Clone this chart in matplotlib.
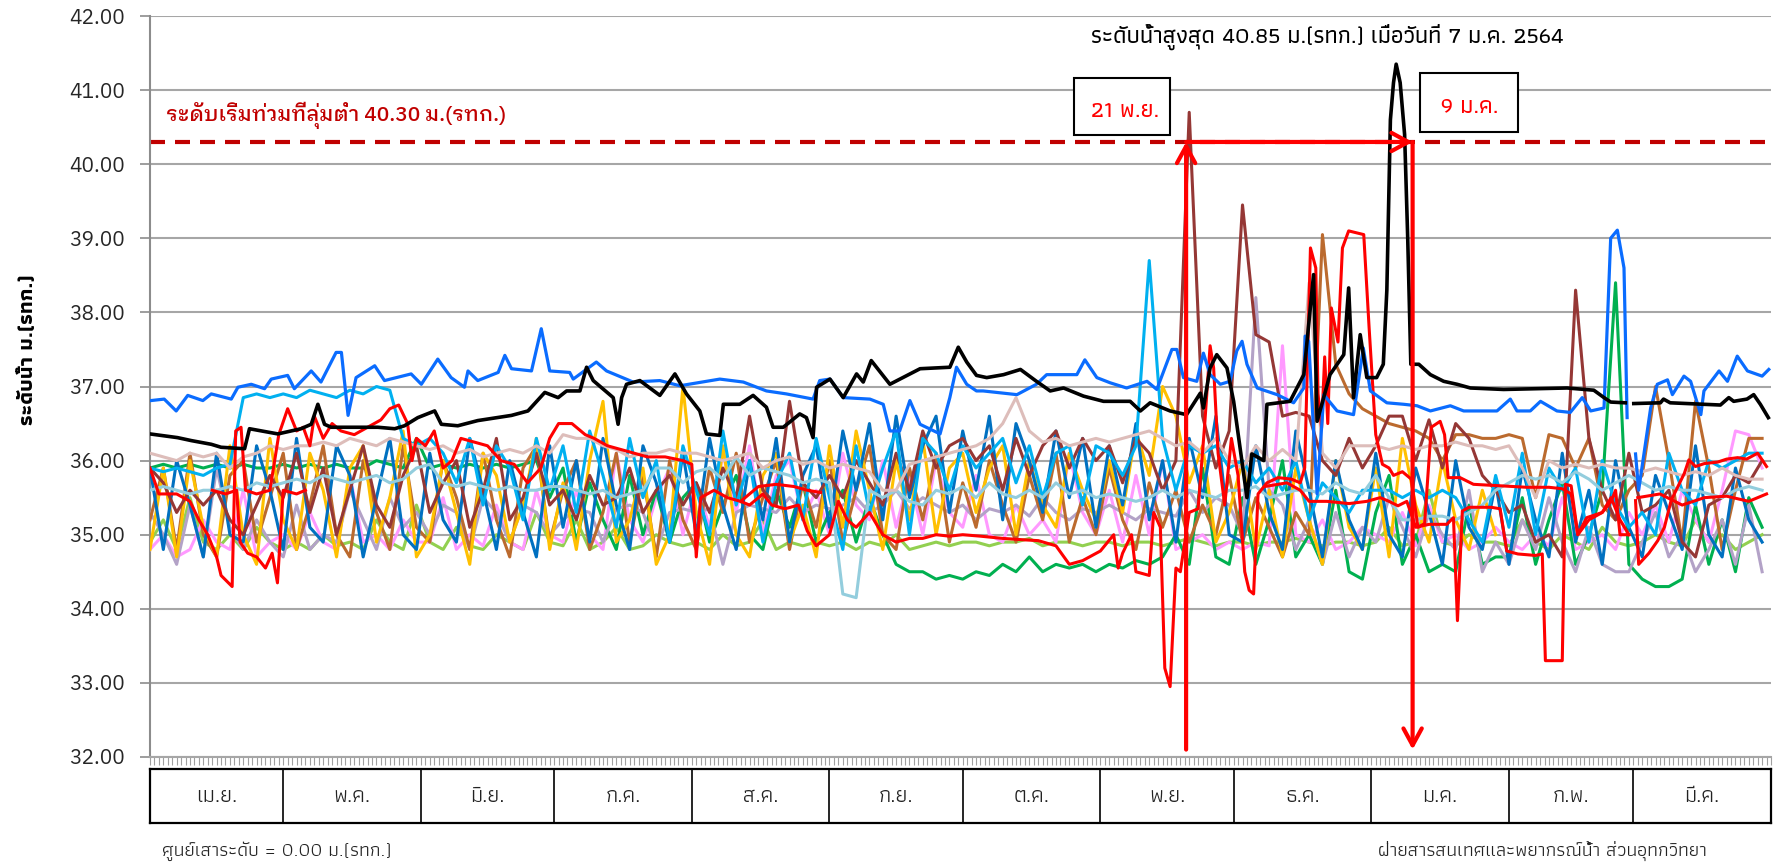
import numpy as np
import matplotlib
matplotlib.use('Agg')
import matplotlib.pyplot as plt
from matplotlib import font_manager
from matplotlib.patches import Rectangle

nan = float('nan')

# --- categories / labels ---
months = ['เม.ย.', 'พ.ค.', 'มิ.ย.', 'ก.ค.', 'ส.ค.', 'ก.ย.', 'ต.ค.', 'พ.ย.', 'ธ.ค.', 'ม.ค.', 'ก.พ.', 'มี.ค.']
month_days = [30, 31, 30, 31, 31, 30, 31, 30, 31, 31, 28, 31]
yticks = [32, 33, 34, 35, 36, 37, 38, 39, 40, 41, 42]
flood_level = 40.30
flood_text = 'ระดับเริ่มท่วมที่ลุ่มต่ำ 40.30 ม.(รทก.)'
peak_text = 'ระดับน้ำสูงสุด 40.85 ม.(รทก.) เมื่อวันที่ 7 ม.ค. 2564'
start_label = '21 พ.ย.'
end_label = '9 ม.ค.'
ylabel = 'ระดับน้ำ ม.(รทก.)'
note_left = 'ศูนย์เสาระดับ = 0.00 ม.(รทก.)'
note_right = 'ฝ่ายสารสนเทศและพยากรณ์น้ำ ส่วนอุทกวิทยา'

# --- main station (black), day of water year vs level ---
black_days = [0, 6.2, 9.3, 13.8, 16.0, 21.3, 22.4, 28.8, 34.0, 36.3, 37.8, 39.3, 40.8, 51.3, 55.1, 57.3, 60.3, 64.1, 65.6, 69.3, 73.8, 81.4, 85.1, 88.9, 91.9,
              93.8, 96.8, 98.3, 99.8, 104.3, 105.4, 106.2, 107.3, 110.3, 114.8, 118.2, 120.8, 123.8, 125.3, 128.3, 129.1, 132.8, 135.8, 138.8, 140.3, 142.6, 146.3, 147.8, 149.3, 150.1, 153.1, 156.1, 159.1, 160.6, 162.4, 166.6, 173.4, 180.1, 182.0, 183.9, 186.1,
              188.4, 192.2, 196.0, 199.6, 202.7, 205.7, 210.2, 214.7, 220.7, 223.0, 225.2, 229.7, 233.4, 236.5, 237.2, 238.7, 240.2, 242.5, 244.0, 247.0, 248.1, 250.8, 251.5, 256.7, 259.8, 261.2, 262.0, 262.8, 265.7, 268.8, 269.9, 271.0, 272.5, 274.0, 276.2, 277.7,
              278.5, 279.3, 280.0, 280.6, 281.5, 282.5, 283.2, 283.9, 285.7, 288.3, 291.3, 294.3, 297.3, 304.8, 312.4, 319.1, 325.1, 327.4, 328.9, 332.2, 333.2, 334.1, 340.1, 340.8, 342.3, 349.9, 353.6, 355.5, 356.6, 359.6, 361.1, 362.6, 364.4]
black_levels = [36.36, 36.31, 36.27, 36.22, 36.18, 36.16, 36.43, 36.36, 36.43, 36.49, 36.76, 36.49, 36.45, 36.45, 36.43, 36.47, 36.58, 36.67, 36.49, 36.47, 36.54, 36.61, 36.67, 36.92, 36.85,
                36.94, 36.94, 37.26, 37.08, 36.85, 36.49, 36.85, 37.03, 37.08, 36.88, 37.17, 36.90, 36.67, 36.36, 36.34, 36.76, 36.76, 36.88, 36.72, 36.45, 36.45, 36.63, 36.58, 36.31, 36.99, 37.10, 36.85, 37.17, 37.06, 37.35, 37.03, 37.24, 37.26, 37.53, 37.33, 37.15,
                37.12, 37.16, 37.23, 37.07, 36.94, 36.98, 36.87, 36.80, 36.80, 36.67, 36.78, 36.67, 36.62, 36.91, 36.71, 37.25, 37.43, 37.25, 36.80, 35.50, 36.09, 36.00, 36.76, 36.80, 37.16, 38.01, 38.51, 36.53, 37.16, 37.43, 38.33, 36.85, 37.70, 37.12, 37.12, 37.30,
                38.30, 40.60, 41.10, 41.35, 41.10, 40.40, 39.00, 37.30, 37.30, 37.16, 37.07, 37.03, 36.98, 36.96, 36.97, 36.98, 36.95, 36.85, 36.79, 36.78, nan, 36.77, 36.78, 36.83, 36.78, 36.76, 36.75, 36.85, 36.80, 36.83, 36.89, 36.76, 36.58]

blue_days = [0.2, 3.2, 5.9, 8.5, 11.9, 13.8, 18.3, 19.8, 22.8, 25.8, 27.3, 31.0, 32.5, 36.3, 38.5, 41.9, 43.1, 44.6, 46.4, 50.6, 52.8, 58.8, 61.1, 64.8, 67.8, 70.8, 71.6, 73.8, 78.4, 79.9, 81.4, 85.9, 88.1, 90.0,
             94.5, 95.3, 100.5, 102.8, 108.8, 114.8, 119.3, 128.3, 133.6, 138.8, 143.3, 149.3, 150.8, 153.1, 156.1, 162.1, 165.1, 166.6, 168.8, 171.1, 173.4, 177.9, 180.1, 181.6, 183.9, 186.1,
             187.6, 195.2, 199.6, 201.9, 208.7, 210.5, 213.2, 216.2, 219.9, 224.5, 226.7, 230.1, 231.2, 232.7, 235.7, 237.2, 238.7, 241.0, 243.2, 244.7, 245.9, 247.0, 249.3, 253.8, 257.5, 259.8, 260.1, 260.9, 262.8, 264.3, 267.3, 271.0, 273.2, 274.8, 278.5,
             282.3, 285.3, 288.3, 292.8, 295.8, 303.3, 306.3, 307.8, 310.8, 313.1, 316.8, 319.8, 322.5, 324.4, 327.4, 328.9, 330.4, 331.9, 332.6, 333.5, 334.5, 335.2, 336.4, 337.9, 339.4, 341.7, 342.8, 345.4, 346.9, 349.2, 349.9, 353.3, 355.2, 357.4, 359.7, 363.0, 364.5]
blue_levels = [36.81, 36.83, 36.67, 36.88, 36.81, 36.90, 36.83, 36.99, 37.03, 36.97, 37.10, 37.15, 36.97, 37.21, 37.06, 37.46, 37.46, 36.61, 37.12, 37.28, 37.08, 37.17, 37.03, 37.37, 37.12, 36.99, 37.21, 37.08, 37.19, 37.42, 37.24, 37.21, 37.78, 37.21,
               37.19, 37.10, 37.33, 37.21, 37.06, 37.08, 37.01, 37.10, 37.06, 36.94, 36.90, 36.83, 37.08, 37.10, 36.85, 36.83, 36.76, 36.40, 36.40, 36.81, 36.49, 36.36, 36.85, 37.26, 37.03, 36.94,
               36.94, 36.89, 37.03, 37.16, 37.16, 37.36, 37.12, 37.05, 36.98, 37.07, 36.96, 37.50, 37.50, 37.12, 37.07, 37.45, 37.16, 37.03, 37.07, 37.48, 37.61, 37.30, 36.98, 36.89, 36.78, 36.98, 37.68, 37.61, 35.55, 36.89, 36.67, 36.62, 37.52, 36.94, 36.78,
               36.76, 36.74, 36.67, 36.74, 36.67, 36.67, 36.83, 36.67, 36.67, 36.80, 36.67, 36.65, 36.85, 36.67, 36.71, 39.00, 39.11, 38.60, 36.58, nan, 36.09, 35.60, 36.09, 36.71, 37.03, 37.09, 36.89, 37.14, 37.07, 36.62, 36.94, 37.21, 37.07, 37.41, 37.21, 37.14, 37.23]

red1_days = [0, 2, 6, 9, 11, 13, 15, 16, 18.5, 19.3, 20.5, 21.5, 24, 27, 29, 31, 33, 34.5, 36, 37, 39, 41, 43, 46, 49, 52, 54, 56, 58, 59,
             60, 62, 64, 66, 68, 70, 73, 76, 79, 82, 85, 88, 90, 92, 95, 98, 100, 103, 106, 109, 112, 116, 120, 122, 123, 124, 127, 130, 133, 135,
             138, 140, 143, 146, 148, 150, 153, 155, 157, 159, 162, 165, 168, 171, 174, 177, 180,
             183, 187, 192, 197, 200, 204, 207, 210, 214, 217, 218, 219, 221, 222, 225, 226, 227.5, 228.5, 229.7, 231,
             232, 234, 236, 237.5, 238.7, 239.5, 240.5, 242, 243.5, 245, 246.5, 247.5, 248.5, 249.5, 251.5, 254, 257, 259, 260, 261.3,
             262.5, 263, 263.8, 264.5, 265.2, 266, 267.5, 268.5, 269.9, 273.3, 274.5, 276, 277.5, 279, 280, 282, 284, 285.5, 287, 288.5,
             290.5, 291.5, 292.3, 295, 298, 304, 310, 315, 318, 320, 321.5, 323.5, 327, 329, 330, 331, 333, 333.8,
             334.5, 335.2, 337.5, 339.5, 341, 342.5, 345.5, 346.5, 348, 350, 353, 355, 357.5, 359.5, 362, 364]
red1_levels = [35.9, 35.55, 35.55, 35.45, 35.2, 35.0, 34.7, 34.45, 34.3, 36.4, 36.45, 35.6, 35.55, 35.6, 36.35, 36.7, 36.4, 36.45, 36.2, 36.6, 36.3, 36.5, 36.4, 36.35, 36.45, 36.55, 36.7, 36.75, 36.5, 36.0,
               36.3, 36.2, 36.4, 35.9, 36.0, 36.3, 36.25, 36.2, 36.0, 35.95, 35.7, 35.9, 36.3, 36.5, 36.5, 36.35, 36.3, 36.2, 36.15, 36.1, 36.05, 36.05, 36.0, 35.95, 34.7, 35.5, 35.6, 35.5, 35.45, 35.4,
               35.55, 35.4, 35.35, 35.4, 35.05, 34.85, 35.0, 35.45, 35.2, 35.1, 35.3, 35.0, 34.9, 34.95, 34.95, 35.0, 34.98,
               35.0, 34.98, 34.95, 34.93, 34.92, 34.85, 34.6, 34.65, 34.78, 35.0, 34.55, 34.75, 35.0, 34.5, 34.45, 35.3, 35.1, 33.2, 32.95, 34.55,
               34.5, 35.3, 35.35, 36.5, 37.55, 37.25, 36.1, 35.4, 36.3, 35.8, 34.5, 34.25, 34.2, 35.55, 35.7, 35.77, 35.75, 35.7, 35.9, 38.87,
               38.6, 36.9, 36.44, 37.4, 36.5, 38.06, 37.6, 38.87, 39.1, 39.05, 37.8, 36.35, 35.95, 35.9, 35.8, 35.85, 35.75, 35.1, 35.15, 36.45,
               36.53, 36.35, 35.77, 35.77, 35.68, 35.66, 35.64, 35.64, 35.62, 35.55, 35.0, 35.23, 35.3, 35.45, 35.6, 35.0, 35.0, nan,
               35.46, 34.6, 34.75, 34.92, 35.1, 35.46, 35.83, 36.01, 35.92, 35.96, 35.98, 36.02, 36.04, 36.02, 36.1, 35.92]

red2_days = [14, 17, 19.5, 20.3, 22, 24, 26, 27.5, 28.7, 30, 33, 35, 36, 133, 137, 141, 145, 148, 151, 152,
             251, 256, 259, 261, 265, 270, 274, 277, 279, 281, 283, 285, 288, 292, 293.5, 294.4, 295.5, 297, 302, 304,
             305.5, 308, 312, 313.5, 314.2, 318, 318.7, 320, 321.5, 324, 327, 329, 331, 333, 334, 335, 340, 345, 350, 355, 360, 364]
red2_levels = [35.6, 35.55, 35.6, 34.9, 34.75, 34.7, 34.55, 34.75, 34.35, 35.6, 35.55, 35.6, nan, 35.45, 35.65, 35.68, 35.65, 35.6, 35.57, nan,
               35.65, 35.7, 35.6, 35.45, 35.45, 35.42, 35.45, 35.5, 35.45, 35.39, 35.45, 35.1, 35.14, 35.14, 35.23, 33.84, 35.32, 35.37, 35.37, 35.35,
               34.78, 34.74, 34.72, 34.74, 33.3, 33.3, 35.68, 35.66, 35.0, 35.2, 35.3, 35.5, 35.2, 35.0, nan, 35.5, 35.55, 35.4, 35.5, 35.52, 35.45, 35.55]

# --- other stations, read every 3rd day (Apr .. Mar rows) ---
gold = [34.8, 35.9, 34.7, 36.0, 35.1, 34.7, 36.2, 35.0, 34.6, 36.3,
        35.2, 34.8, 36.1, 35.6, 34.7, 35.9, 36.2, 34.9, 35.5, 36.4, 34.7,
        35.0, 36.0, 35.3, 34.6, 36.1, 35.8, 34.9, 35.4, 36.3, 34.8,
        35.7, 34.8, 36.0, 36.8, 34.9, 35.2, 35.9, 34.6, 35.0, 37.0,
        35.3, 34.6, 36.2, 35.0, 34.7, 35.8, 36.1, 34.9, 35.4, 34.7,
        36.2, 35.1, 36.4, 35.6, 34.8, 36.0, 35.2, 36.3, 35.0, 35.9,
        36.1, 35.3, 35.9, 36.2, 35.0, 36.0, 35.4, 35.1, 36.1, 35.6, 35.2,
        36.0, 35.3, 36.4, 35.8, 37.0, 36.6, 35.7, 36.2, 34.9, 35.3,
        36.0, 34.8, 35.6, 34.7, 35.9, 35.2, 34.6, 36.0, 35.1, 34.8,
        35.9, 34.7, 36.3, 35.4, 34.9, 36.0, 35.2, 34.8, 35.6, 35.0]

mid_blue = [35.9, 34.8, 36.0, 35.4, 34.7, 36.1, 35.0, 34.9, 36.2, 35.6,
            34.8, 36.3, 35.1, 34.9, 36.2, 35.8, 34.7, 35.5, 36.3, 35.0, 34.8,
            36.1, 35.2, 34.9, 36.3, 35.6, 34.8, 36.0, 35.3, 34.7, 36.2,
            35.1, 36.0, 34.9, 36.3, 35.4, 34.8, 36.2, 35.7, 34.9, 36.1,
            35.0, 36.3, 35.4, 34.8, 36.0, 35.2, 36.3, 34.9, 35.8, 36.2,
            35.1, 36.4, 35.6, 36.5, 35.2, 36.6, 35.5, 36.2, 36.6, 35.3,
            36.4, 35.6, 36.6, 35.2, 36.5, 36.0, 35.3, 36.4, 35.5, 36.3, 35.1,
            36.2, 35.4, 36.5, 35.2, 36.0, 34.9, 36.3, 35.5, 36.6, 35.0,
            34.9, 36.2, 35.3, 34.8, 36.4, 35.6, 34.7, 36.0, 35.2, 34.8,
            36.1, 35.0, 34.7, 35.9, 35.3, 34.6, 36.0, 35.1, 34.8, 35.7,
            34.6, 35.9, 35.2, 34.7, 36.1, 34.9, 35.6, 34.6, 36.0, 35.1,
            34.7, 35.8, 35.3, 34.8, 36.2, 35.0, 34.7, 35.9, 35.2, 34.9]

light_blue = [35.9, 35.85, 35.9, 35.85, 35.8, 35.9, 35.95, 36.85, 36.9, 36.85,
              36.9, 36.85, 36.95, 36.9, 36.85, 36.95, 36.9, 37.0, 36.95, 36.3, 36.2,
              36.3, 36.1, 35.7, 36.3, 35.4, 36.2, 35.9, 35.2, 36.3, 35.6,
              36.2, 35.3, 36.4, 35.8, 35.1, 36.3, 35.5, 36.0, 34.9, 36.2,
              35.6, 35.0, 36.4, 35.4, 36.0, 34.9, 35.7, 36.1, 35.2, 36.3,
              35.5, 34.8, 36.2, 35.3, 35.9, 36.4, 35.0, 36.3, 36.1, 35.6,
              36.2, 35.9, 36.1, 36.3, 35.7, 36.2, 35.5, 36.1, 36.2, 35.4, 36.2,
              36.1, 35.8, 36.2, 38.7, 36.3, 35.6, 36.2, 36.1, 36.2, 35.9,
              36.0, 35.7, 35.9, 35.6, 36.0, 35.2, 35.7, 35.5, 35.3, 35.6,
              35.6, 35.6, 35.5, 35.6, 35.5, 35.6, 35.5, 35.2, 34.9, 35.8,
              35.1, 36.1, 35.0, 35.9, 35.6, 35.9, 34.9, 36.0, 35.4, 35.1,
              35.3, 35.0, 36.1, 35.6, 35.4, 36.0, 35.9, 36.0, 36.1, 36.1]

green = [35.9, 35.95, 35.9, 35.95, 35.9, 35.95, 35.9, 35.95, 35.9, 35.9,
         35.95, 35.9, 35.95, 35.9, 35.95, 35.9, 35.9, 36.0, 35.95, 35.9, 36.3,
         35.9, 35.95, 35.9, 35.95, 35.9, 35.95, 35.9, 35.95, 36.0, 35.5,
         35.9, 34.9, 35.7, 35.2, 34.8, 35.8, 35.0, 35.6, 34.9, 35.5,
         35.7, 34.9, 35.4, 35.8, 35.0, 34.8, 35.6, 35.1, 35.7, 34.9,
         35.3, 35.6, 34.9, 35.5, 35.0, 34.6, 34.5, 34.5, 34.4, 34.45,
         34.4, 34.5, 34.45, 34.6, 34.5, 34.7, 34.5, 34.6, 34.55, 34.6, 34.5,
         34.6, 34.55, 34.65, 34.6, 34.7, 35.0, 34.6, 35.9, 34.7, 34.6,
         35.5, 34.6, 35.2, 36.0, 34.7, 35.0, 34.6, 35.6, 34.5, 34.4,
         35.3, 35.8, 34.6, 35.0, 34.5, 34.6, 34.5, 35.4, 34.6, 34.7,
         34.7, 35.5, 34.6, 35.2, 35.7, 34.6, 35.0, 35.6, 38.4, 34.6,
         34.4, 34.3, 34.3, 34.4, 35.4, 34.6, 35.2, 34.5, 35.5, 35.1]

light_green = [34.9, 35.2, 34.8, 35.5, 34.9, 34.8, 35.0, 34.8, 35.1, 34.9,
               34.8, 34.9, 34.8, 35.0, 34.85, 34.9, 34.8, 35.2, 34.9, 34.8, 35.4,
               34.9, 34.8, 35.1, 34.85, 34.8, 35.0, 34.9, 34.8, 35.3, 34.9,
               34.85, 35.2, 34.8, 34.9, 35.1, 34.8, 34.85, 35.0, 34.9, 34.85,
               34.9, 34.8, 35.0, 34.85, 34.9, 35.2, 34.8, 34.9, 34.85, 34.9,
               34.85, 34.9, 34.8, 34.9, 34.85, 35.0, 34.8, 34.85, 34.9, 34.85,
               34.9, 34.9, 34.85, 34.9, 34.9, 34.95, 34.85, 34.9, 34.9, 34.85, 34.9,
               34.9, 34.85, 34.9, 34.9, 34.85, 34.9, 34.95, 34.9, 34.85, 34.9,
               34.9, 34.85, 34.9, 34.9, 34.95, 34.9, 34.85, 34.9, 34.9, 34.85,
               34.9, 35.1, 34.85, 34.9, 35.6, 34.9, 34.85, 35.0, 34.9, 34.9,
               34.85, 35.2, 34.9, 34.8, 35.0, 34.9, 34.8, 35.1, 34.9, 34.85,
               34.9, 35.0, 34.9, 34.85, 35.2, 34.9, 35.0, 34.8, 34.9, 35.0]

brown = [35.2, 35.9, 34.8, 36.1, 35.0, 34.7, 35.8, 36.0, 34.9, 35.5,
         36.1, 34.8, 35.4, 36.2, 35.0, 34.7, 36.0, 35.3, 34.8, 36.2, 35.1,
         34.9, 36.0, 35.5, 34.8, 36.1, 35.2, 34.7, 35.9, 36.2, 34.9,
         35.6, 36.0, 34.8, 35.3, 36.1, 34.9, 35.8, 34.7, 36.0, 35.2,
         34.8, 35.9, 35.3, 36.1, 34.9, 35.5, 36.0, 34.8, 35.7, 35.1,
         36.0, 34.9, 35.6, 36.2, 35.0, 34.8, 35.9, 35.2, 36.1, 34.9,
         35.7, 35.1, 36.0, 35.4, 34.9, 35.8, 35.2, 36.1, 34.9, 35.5, 35.0,
         35.9, 35.2, 34.8, 35.7, 35.1, 35.6, 34.9, 35.4, 35.0, 35.8,
         34.9, 35.5, 35.1, 34.7, 35.3, 35.0, 39.05, 37.3, 36.9, 36.7,
         36.6, 36.5, 36.45, 36.4, 36.3, 36.0, 36.35, 36.35, 36.3, 36.3,
         36.35, 36.3, 35.5, 36.35, 36.3, 35.9, 36.3, 35.4, 35.2, 35.6,
         35.8, 37.0, 36.0, 34.9, 36.8, 35.9, 34.8, 35.6, 36.3, 36.3]

maroon = [35.9, 35.7, 35.3, 35.6, 35.4, 35.6, 35.2, 35.0, 35.4, 35.8,
          35.5, 36.1, 35.3, 35.9, 35.0, 35.6, 36.2, 35.4, 35.1, 35.8, 36.2,
          35.3, 35.7, 36.0, 35.1, 35.6, 36.3, 35.2, 35.5, 36.1, 35.4,
          35.6, 35.2, 35.8, 35.4, 35.5, 35.9, 35.3, 35.6, 35.8, 35.4,
          35.7, 35.3, 35.9, 35.5, 36.6, 35.6, 35.4, 36.8, 35.7, 35.5,
          35.8, 35.5, 36.0, 35.7, 35.4, 36.1, 35.6, 36.4, 35.9, 36.2,
          36.3, 36.0, 36.2, 35.6, 36.3, 35.8, 36.2, 36.4, 35.9, 36.3, 36.0,
          36.2, 35.7, 36.3, 36.1, 35.6, 36.0, 40.7, 36.6, 35.9, 36.4,
          39.45, 37.7, 37.6, 36.6, 36.65, 36.6, 36.0, 35.8, 36.3, 35.9,
          36.2, 36.6, 36.6, 36.0, 36.55, 35.9, 36.5, 36.3, 35.8, 35.6,
          35.3, 35.4, 34.9, 35.0, 34.7, 38.3, 36.3, 35.6, 35.2, 36.1,
          35.3, 35.4, 35.6, 34.9, 34.7, 35.4, 35.5, 35.8, 35.7, 36.0]

lavender = [35.3, 35.0, 34.6, 35.4, 34.7, 35.9, 35.1, 34.8, 35.2, 34.9,
            34.7, 35.4, 34.8, 35.0, 34.9, 35.6, 35.2, 34.8, 35.5, 35.1, 35.3,
            35.0, 35.4, 35.3, 34.8, 35.5, 35.3, 34.9, 35.4, 35.3, 35.0,
            35.2, 35.35, 35.3, 34.9, 35.35, 35.4, 35.3, 34.8, 35.3, 35.35,
            35.3, 35.35, 34.6, 35.3, 35.4, 35.35, 35.3, 35.5, 35.3, 35.4,
            35.35, 35.4, 35.5, 35.3, 35.4, 35.6, 35.35, 35.5, 35.4, 35.3,
            35.4, 35.2, 35.35, 35.3, 35.4, 35.25, 35.5, 35.3, 35.2, 35.35, 35.3,
            35.4, 35.3, 35.2, 35.35, 35.3, 35.25, 35.6, 35.3, 35.5, 35.4,
            35.0, 38.2, 35.6, 35.4, 34.8, 35.2, 34.6, 35.3, 34.7, 35.1,
            34.9, 35.5, 35.1, 34.7, 35.3, 35.0, 34.8, 35.6, 34.5, 34.9,
            34.6, 35.2, 34.8, 35.5, 34.9, 34.5, 35.1, 34.6, 34.5, 34.5,
            34.9, 35.3, 34.7, 35.0, 34.5, 34.8, 35.2, 34.6, 35.4, 34.5]

rosy = [36.1, 36.05, 36.0, 36.1, 36.05, 36.1, 35.9, 36.05, 36.1, 36.2,
        36.15, 36.2, 36.2, 36.25, 36.2, 36.3, 36.25, 36.2, 36.3, 36.25, 36.2,
        36.15, 36.2, 36.1, 36.15, 36.05, 36.1, 36.15, 36.1, 36.2, 36.1,
        36.35, 36.3, 36.3, 36.2, 36.15, 36.05, 36.1, 36.1, 36.15, 36.1,
        36.1, 36.05, 36.0, 36.05, 36.1, 35.9, 36.0, 36.05, 35.95, 36.0,
        35.9, 35.95, 35.9, 35.85, 35.6, 35.6, 35.95, 36.0, 36.05, 36.1,
        36.15, 36.2, 36.3, 36.5, 36.85, 36.4, 36.25, 36.3, 36.2, 36.25, 36.3,
        36.25, 36.3, 36.35, 36.4, 36.3, 36.2, 36.25, 36.1, 36.3, 36.0,
        35.9, 36.2, 36.0, 36.15, 36.0, 38.4, 36.1, 35.9, 36.2, 36.2,
        36.2, 36.15, 36.2, 36.15, 36.2, 36.2, 36.25, 36.2, 36.2, 36.15,
        36.2, 35.9, 35.5, 36.0, 35.9, 35.95, 35.9, 35.95, 35.9, 35.9,
        35.85, 35.9, 35.85, 35.8, 35.85, 35.8, 35.9, 35.8, 35.75, 35.75]

steel = [35.6, 35.65, 35.6, 35.55, 35.6, 35.6, 35.65, 35.6, 35.7, 35.65,
         35.7, 35.75, 35.7, 35.8, 35.75, 35.7, 35.75, 35.8, 35.7, 35.75, 35.9,
         35.95, 35.7, 35.65, 35.7, 35.65, 35.6, 35.65, 35.6, 35.6, 35.65,
         35.65, 35.6, 35.55, 35.6, 35.5, 35.55, 35.6, 35.9, 35.9, 35.7,
         35.85, 35.9, 35.75, 36.05, 35.8, 35.9, 35.85, 35.8, 35.7, 35.75,
         35.7, 34.2, 34.15, 35.6, 35.5, 35.6, 35.45, 35.4, 35.6, 35.55,
         35.65, 35.5, 35.7, 35.55, 35.5, 35.6, 35.5, 35.7, 35.55, 35.6, 35.5,
         35.55, 35.5, 35.45, 35.5, 35.6, 35.5, 35.6, 35.55, 35.5, 35.6,
         35.6, 35.65, 35.5, 35.55, 35.6, 35.6, 35.55, 35.7, 35.6, 35.55,
         35.8, 35.5, 35.2, 35.2, 35.25, 35.25, 35.2, 35.3, 35.4, 35.6,
         35.7, 35.8, 35.75, 35.8, 35.7, 35.85, 35.75, 35.6, 35.7, 35.8,
         35.7, 35.6, 35.65, 35.6, 35.6, 35.55, 35.5, 35.6, 35.65, 35.6]

pink = [34.8, 35.0, 34.7, 34.8, 35.2, 34.9, 34.8, 35.6, 34.7, 34.9,
        35.0, 34.8, 35.3, 34.9, 34.8, 35.8, 34.9, 35.0, 34.8, 35.2, 34.9,
        34.9, 35.5, 34.8, 35.0, 34.85, 35.4, 34.9, 34.8, 35.6, 35.0,
        34.9, 35.6, 35.0, 34.8, 36.1, 35.2, 34.9, 35.5, 35.9, 35.0,
        35.7, 35.1, 36.1, 35.3, 36.2, 35.0, 35.8, 36.0, 35.2, 35.6,
        35.0, 36.1, 35.4, 35.2, 36.0, 35.1, 35.8, 35.0, 36.0, 35.3,
        35.1, 35.8, 35.0, 34.9, 35.4, 35.0, 35.2, 34.9, 36.1, 35.3, 35.0,
        35.6, 34.9, 35.8, 35.0, 36.0, 34.8, 34.9, 35.0, 34.8, 34.9,
        34.8, 34.9, 34.85, 37.55, 35.0, 34.9, 35.2, 34.8, 34.9, 35.1,
        35.0, 34.9, 35.3, 34.85, 35.4, 34.9, 35.0, 34.8, 34.9, 35.1,
        34.9, 34.8, 35.0, 34.85, 35.5, 34.8, 34.9, 35.0, 34.8, 35.3,
        35.0, 35.4, 34.9, 35.6, 35.2, 34.9, 35.6, 36.4, 36.35, 35.9]

# annotation positions (day of water year)
arrow_start_day = 233.3
arrow_end_day = 284.3
arrow_floor = 32.1

# --- fonts ---
names = {f.name for f in font_manager.fontManager.ttflist}
thai = next((n for n in ['Athiti', 'IBM Plex Sans Thai', 'Noto Sans Thai', 'Sarabun', 'Kanit'] if n in names), 'DejaVu Sans')
looped = next((n for n in ['IBM Plex Sans Thai Looped', 'Sarabun', 'Noto Sans Thai Looped'] if n in names), thai)
plt.rcParams['font.family'] = [thai, 'DejaVu Sans']
looped_family = [looped, thai, 'DejaVu Sans']

W, H = 1775, 867
fig = plt.figure(figsize=(W / 100, H / 100), dpi=100)
ax = fig.add_axes([150 / W, 1 - 757 / H, 1621 / W, (757 - 16) / H])


def grid(vals):
    return np.arange(len(vals)) * 3


series = [
    (grid(light_green), light_green, '#92D050', 2.2),
    (grid(pink), pink, '#FF99FF', 2.2),
    (grid(green), green, '#00B050', 2.2),
    (grid(lavender), lavender, '#B3A2C7', 2.2),
    (grid(brown), brown, '#BB6A2E', 2.2),
    (grid(gold), gold, '#FFC000', 2.2),
    (grid(mid_blue), mid_blue, '#0070C0', 2.2),
    (grid(maroon), maroon, '#953735', 2.2),
    (grid(light_blue), light_blue, '#00B0F0', 2.2),
    (grid(steel), steel, '#93CDDD', 2.2),
    (grid(rosy), rosy, '#DDBDBA', 2.2),
    (red2_days, red2_levels, '#FF0000', 2.2),
    (red1_days, red1_levels, '#FF0000', 2.2),
    (blue_days, blue_levels, '#0A6CFF', 2.3),
    (black_days, black_levels, '#000000', 2.6),
]
for i, (x, y, c, lw) in enumerate(series):
    ax.plot(x, y, color=c, lw=lw, solid_joinstyle='round', zorder=3 + i * 0.1)

ax.set_xlim(0, 365)
ax.set_ylim(32, 42)
ax.set_yticks(yticks)
ax.set_yticklabels([f'{v:.2f}' for v in yticks], family=looped_family)
ax.set_xticks(np.arange(0, 366))
ax.set_xticklabels([])
ax.tick_params(axis='x', length=6, width=0.8, color='#A0A0A0')
ax.tick_params(axis='y', length=7, width=1.2, color='#8C8C8C', pad=11,
               labelsize=15, labelcolor='#262626')
ax.yaxis.grid(True, color='#A6A6A6', lw=1.5)
ax.set_axisbelow(True)
for s in ['top', 'right']:
    ax.spines[s].set_visible(False)
ax.spines['left'].set_color('#8C8C8C')
ax.spines['left'].set_linewidth(1.5)
ax.spines['bottom'].set_color('#A6A6A6')
ax.spines['bottom'].set_linewidth(1.5)

# flood threshold
ax.axhline(flood_level, color='#C00000', lw=3, ls=(0, (3.6, 2.4)), zorder=2.5)
ax.text(3.7, 40.66, flood_text, color='#C00000', fontsize=15, ha='left', va='center',
        family=looped_family, fontweight='medium')
ax.text(265, 41.72, peak_text, color='black', fontsize=17, ha='center', va='center',
        fontweight='medium')

# arrows
arrow_kw = dict(arrowstyle='->,head_length=0.55,head_width=0.3', color='#FF0000',
                lw=3, mutation_scale=22, shrinkA=0, shrinkB=0)
ax.annotate('', xy=(arrow_start_day, flood_level), xytext=(arrow_start_day, arrow_floor),
            arrowprops=arrow_kw, zorder=20)
ax.annotate('', xy=(arrow_end_day, flood_level), xytext=(arrow_start_day, flood_level),
            arrowprops=arrow_kw, zorder=20)
ax.annotate('', xy=(arrow_end_day, arrow_floor), xytext=(arrow_end_day, flood_level),
            arrowprops=arrow_kw, zorder=20)

# date boxes
ax.add_patch(Rectangle((208.1, 40.39), 21.6, 0.78, fc='white', ec='black', lw=1.5, zorder=15))
ax.text(219.6, 40.71, start_label, color='#FF0000', fontsize=17, ha='center', va='center',
        fontweight='medium', zorder=16)
ax.add_patch(Rectangle((286.0, 40.43), 22.0, 0.80, fc='white', ec='black', lw=1.5, zorder=15))
ax.text(297.2, 40.76, end_label, color='#FF0000', fontsize=17, ha='center', va='center',
        fontweight='medium', zorder=16)

# month table
tab = fig.add_axes([150 / W, 1 - 823 / H, 1621 / W, (823 - 769) / H])
tab.set_xlim(0, 365)
tab.set_ylim(0, 1)
tab.set_xticks([])
tab.set_yticks([])
for s in tab.spines.values():
    s.set_linewidth(1.6)
    s.set_color('black')
edges = np.cumsum([0] + month_days)
for e in edges[1:-1]:
    tab.axvline(e, color='black', lw=1.2)
for m, a, b in zip(months, edges[:-1], edges[1:]):
    tab.text((a + b) / 2, 0.5, m, ha='center', va='center', fontsize=16, color='#222222')

fig.text(28 / W, 1 - 350 / H, ylabel, rotation=90, ha='center', va='center',
         fontsize=15, fontweight='bold')
fig.text(162 / W, 1 - 851 / H, note_left, ha='left', va='center', fontsize=14, color='#222222')
fig.text(1707 / W, 1 - 851 / H, note_right, ha='right', va='center', fontsize=14, color='#222222')

fig.savefig('out.png', dpi=100)
